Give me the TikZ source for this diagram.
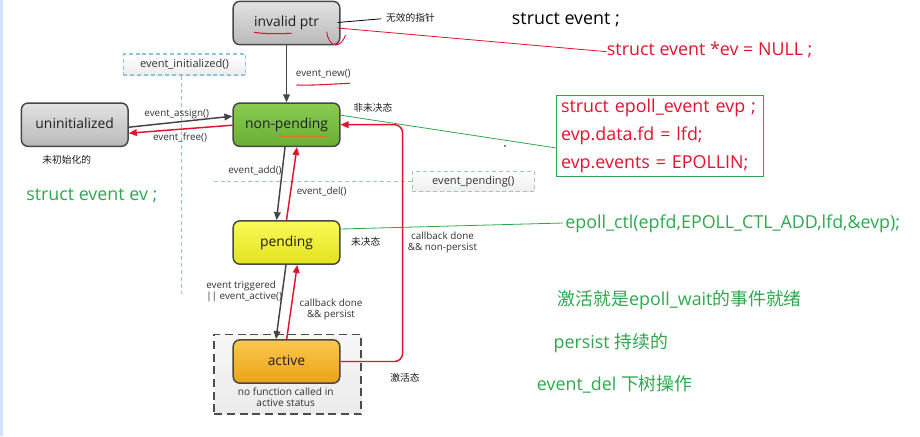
\documentclass[tikz,border=0pt]{standalone}
\usepackage{fontspec}
\setmainfont{Open Sans}
\newfontfamily\cjk{Noto Sans CJK SC}
\usetikzlibrary{arrows.meta,calc}
\definecolor{rd}{HTML}{E3122E}
\definecolor{gn}{HTML}{2EA84E}
\definecolor{ln}{HTML}{444444}
\definecolor{bluedsh}{HTML}{8EC4DC}
\definecolor{greendsh}{HTML}{9CCBB0}
\definecolor{orng}{HTML}{E07818}
\definecolor{grtop}{HTML}{E2E2E2}
\definecolor{grbot}{HTML}{B9B9B9}
\definecolor{gntop}{HTML}{8ACC52}
\definecolor{gnbot}{HTML}{6AAE36}
\definecolor{yltop}{HTML}{FAFA5A}
\definecolor{ylbot}{HTML}{E2E21C}
\definecolor{ortop}{HTML}{FBC84C}
\definecolor{orbot}{HTML}{EBA21A}
\begin{document}
\begin{tikzpicture}[x=0.75pt,y=-0.75pt,
  state/.style={draw=black!72,line width=1.1pt,rounded corners=5pt,minimum width=80pt,minimum height=32.5pt,
    font=\fontsize{10.4}{12}\selectfont,text=black!88,text height=0.75em,text depth=0.22em},
  grayst/.style={state,top color=grtop,bottom color=grbot},
  lbl/.style={font=\fontsize{7.4}{8.5}\selectfont,text=black!80,inner sep=0pt,text height=0.75em,text depth=0.22em},
  lbltwo/.style={font=\fontsize{7.4}{8.5}\selectfont,text=black!80,inner sep=0pt},
  cjks/.style={font=\cjk\fontsize{7.3}{9}\selectfont,text=black!90,inner sep=0pt},
  big/.style={font=\fontsize{13.4}{16}\selectfont,inner sep=0pt,anchor=west,text height=0.75em,text depth=0.22em},
  dbox/.style={font=\fontsize{8.3}{10}\selectfont,text=black!80,top color=white,bottom color=black!7,dashed,dash pattern=on 3pt off 2.2pt,line width=0.9pt},
  blk/.style={draw=ln,line width=1.1pt,-{Triangle[length=6pt,width=5pt]}},
  rda/.style={draw=rd,line width=1.1pt,-{Triangle[length=6pt,width=5pt]}},
]
\useasboundingbox (0,0) rectangle (920,436);
\fill[white] (0,0) rectangle (920,436);
\fill[blue!60!cyan!18] (0,0) rectangle (2.5,436);

% dashed helper boxes and lines
\node[dbox,draw=bluedsh,minimum width=91.8pt,minimum height=15.75pt] (initbox) at (184.5,64.5) {event\_initialized()};
\draw[bluedsh,dashed,dash pattern=on 3pt off 2.2pt,line width=0.9pt] ($(initbox.south)+(-2.8,0)$) -- ++(0,218);
\node[dbox,draw=greendsh,minimum width=91.5pt,minimum height=15pt] (pendbox) at (473.3,181.7) {event\_pending()};
\draw[greendsh,dashed,dash pattern=on 3pt off 2.2pt,line width=0.9pt] (pendbox.west) -- ++(-199,0);

% active frame
\node[draw=black!70,dashed,dash pattern=on 6pt off 3.5pt,line width=1.4pt,top color=black!3,bottom color=black!8,
  minimum width=110.25pt,minimum height=59.6pt] (actframe) at (287.8,374.2) {};

% states
\node[grayst] (invalid) at (286.5,23) {invalid ptr};
\node[state,top color=gntop,bottom color=gnbot] (nonpend) at (286.5,124.7) {non-pending};
\node[grayst] (uninit) at (74.7,124.7) {uninitialized};
\node[state,top color=yltop,bottom color=ylbot] (pending) at (286.5,242.5) {pending};
\node[state,top color=ortop,bottom color=orbot] (active) at (286.5,361.5) {active};
\node[lbltwo,align=center,font=\fontsize{7.6}{8}\selectfont] (nofunc) at (285.7,397) {no function called in\\active status};

% underlines
\draw[rd,line width=0.8pt] (254,32.3) .. controls (266,34.2) and (280,33.8) .. (291.7,33.3);
\draw[orng,line width=1pt] (278.3,136) .. controls (295,137) and (310,136.5) .. (326.7,136.7);
\draw[rd,line width=0.8pt] (296.7,85) .. controls (315,85.5) and (333,84) .. (350,83.3);
\draw[rd,line width=0.7pt] (326.7,31.7) .. controls (327.5,39) and (331,44.5) .. (335.5,45) .. controls (340,45.3) and (344,40) .. (345.5,35);

% transitions
\draw[blk] (invalid) -- (nonpend);
\draw[blk] ($(uninit.east)+(0,2.5)$) -- ($(nonpend.west)+(0,-8.5)$);
\draw[rda] ($(nonpend.west)+(0,0.5)$) -- ($(uninit.east)+(0,8.5)$);
\draw[blk] ($(nonpend.south)+(-1.5,0)$) -- ($(pending.north)+(-10,0)$);
\draw[rda] ($(pending.north)+(0,0)$) -- ($(nonpend.south)+(10.5,0)$);
\draw[blk] ($(pending.south)+(-0.5,0)$) -- ($(active.north)+(-10.5,0)$);
\draw[rda] ($(active.north)+(0.2,0)$) -- ($(pending.south)+(10.8,0)$);
\draw[rda,rounded corners=6pt] (active.east) -- ++(62,0) |- (nonpend.east);

% transition labels
\node[lbl] (lassign) at (176.7,112.7) {event\_assign()};
\node[lbl] (lfree) at (180,137.3) {event\_free()};
\node[lbl] (lnew) at (323.3,72.7) {event\_new()};
\node[lbl] (ladd) at (255,170) {event\_add()};
\node[lbl] (ldel) at (321.7,190.7) {event\_del()};
\node[lbltwo,align=left,anchor=west] (ltrig) at (206,291.7) {event triggered\\|| event\_active()};
\node[lbltwo,align=center] (lpersist) at (331,309.7) {callback done\\\&\& persist};
\node[lbltwo,align=center] (lnonpersist) at (442.5,242.4) {callback done\\\&\& non-persist};

% chinese annotations
\node[cjks] (wuxiao) at (410.5,17.3) {无效的指针};
\node[cjks] (feiweijue) at (372.8,107.7) {非未决态};
\node[cjks] (weichushi) at (66.7,160) {未初始化的};
\node[cjks] (weijue) at (365.7,241.7) {未决态};
\node[cjks] (jihuo) at (405,377.3) {激活态};

% code notes
\node[big,text=black] (sevent) at (511.7,20.7) {struct event ;};
\node[big,text=rd] (evnull) at (606.7,51.7) {struct event *ev = NULL ;};
\node[big,text=gn] (evstack) at (26,197.3) {struct event ev ;};
\node[draw=gn,line width=0.6pt,fill=white,anchor=north west,align=left,text=rd,font=\fontsize{13.4}{21}\selectfont,
  text width=148pt,inner xsep=3.75pt,inner ysep=2.2pt,minimum height=60.75pt] (epbox) at (555.7,95)
  {struct epoll\_event evp ;\\evp.data.fd = lfd;\\evp.events = EPOLLIN;};
\node[big,text=gn] (epctl) at (565,225) {epoll\_ctl(epfd,EPOLL\_CTL\_ADD,lfd,\&evp);};
\node[big,text=gn] (note1) at (557.3,302.3) {{\cjk 激活就是}epoll\_wait{\cjk 的事件就绪}};
\node[big,text=gn] (note2) at (553.3,345) {persist {\cjk 持续的}};
\node[big,text=gn] (note3) at (536.7,386.7) {event\_del {\cjk 下树操作}};
\fill[black] (505,146) circle (0.9);

% annotation leaders
\draw[black,line width=0.6pt] ($(invalid.east)+(-3,-0.5)$) -- ($(wuxiao.west)+(-5,1.5)$);
\draw[rd,line width=0.6pt] ($(invalid.east)+(-3,5)$) -- (evnull.west);
\draw[gn,line width=0.6pt] ($(nonpend.east)+(0,-9.5)$) -- ($(epbox.west)+(0,12)$);
\draw[gn,line width=0.6pt] ($(pending.east)+(0,-13.5)$) -- ($(epctl.west)+(-2,-2)$);
\end{tikzpicture}
\end{document}
